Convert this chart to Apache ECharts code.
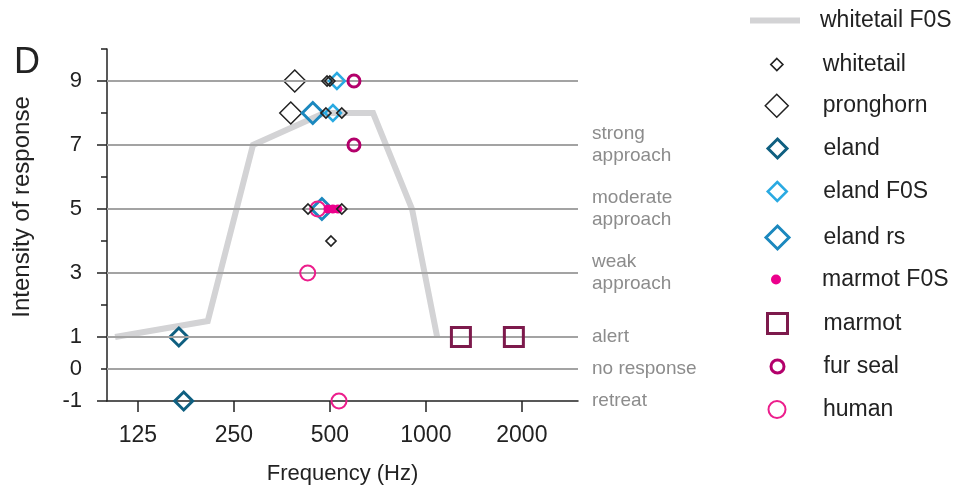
<!DOCTYPE html>
<html>
<head>
<meta charset="utf-8">
<script src="https://cdn.jsdelivr.net/npm/echarts@6/dist/echarts.min.js"></script>
<style>html,body{margin:0;padding:0;background:#fff}#c{width:966px;height:490px}</style>
</head>
<body>
<div id="c"></div>
<script>
// ---- data (frequency in Hz, intensity of response) ----
var xTickFreqs = [125, 250, 500, 1000, 2000];
var yLabelValues = [-1, 0, 1, 3, 5, 7, 9];
var gridLevels = [9, 7, 5, 3, 1, 0];
var responseLevels = [7, 5, 3, 1, 0, -1];
var responseLabels = ['strong\napproach', 'moderate\napproach', 'weak\napproach', 'alert', 'no response', 'retreat'];

var whitetailF0SFreq = [106, 207, 287, 480, 683, 905, 1085];
var whitetailF0SVal  = [1, 1.5, 7, 8, 8, 5, 1];
var whitetailFreq = [490, 500, 486, 545, 427, 545, 504];
var whitetailVal  = [9, 9, 8, 8, 5, 5, 4];
var pronghornFreq = [388, 377];
var pronghornVal  = [9, 8];
var elandFreq = [168, 174];
var elandVal  = [1, -1];
var elandF0SFreq = [526, 511];
var elandF0SVal  = [9, 8];
var elandRsFreq = [442, 472];
var elandRsVal  = [8, 5];
var marmotF0SFreq = [493, 511, 530];
var marmotF0SVal  = [5, 5, 5];
var marmotFreq = [1288, 1888];
var marmotVal  = [1, 1];
var furSealFreq = [595, 595];
var furSealVal  = [9, 7];
var humanFreq = [426, 458, 534];
var humanVal  = [3, 5, -1];

function pts(f, v) { return f.map(function (x, i) { return [Math.log2(x), v[i]]; }); }

var FONT = '"Liberation Sans", Arial, sans-serif';
var LEG_FONT = 23;

var scatterDefs = [
  {name: 'whitetail', f: whitetailFreq, v: whitetailVal, symbol: 'diamond', size: 10, lsize: 12, color: '#222222', bw: 1.7, fill: false, z: 8},
  {name: 'pronghorn', f: pronghornFreq, v: pronghornVal, symbol: 'diamond', size: 22, lsize: 23, color: '#222222', bw: 1.5, fill: false, z: 3},
  {name: 'eland', f: elandFreq, v: elandVal, symbol: 'diamond', size: 18, lsize: 19, color: '#0f5f80', bw: 3, fill: false, z: 4},
  {name: 'eland F0S', f: elandF0SFreq, v: elandF0SVal, symbol: 'diamond', size: 16, lsize: 19, color: '#2aaae2', bw: 2.5, fill: false, z: 5},
  {name: 'eland rs', f: elandRsFreq, v: elandRsVal, symbol: 'diamond', size: 21, lsize: 23, color: '#1b88be', bw: 3, fill: false, z: 4},
  {name: 'marmot F0S', f: marmotF0SFreq, v: marmotF0SVal, symbol: 'circle', size: 9, lsize: 10, color: '#ec008c', bw: 0, fill: true, z: 7},
  {name: 'marmot', f: marmotFreq, v: marmotVal, symbol: 'rect', size: 19, lsize: 20, color: '#7d1a4c', bw: 3, fill: false, z: 5},
  {name: 'fur seal', f: furSealFreq, v: furSealVal, symbol: 'circle', size: 12, lsize: 13, color: '#b3006b', bw: 3, fill: false, z: 9},
  {name: 'human', f: humanFreq, v: humanVal, symbol: 'circle', size: 15, lsize: 17, color: '#ec1e8c', bw: 2, fill: false, z: 6}
];

var series = [
  {
    name: 'grid', type: 'line', data: [], z: 1, silent: true,
    markLine: {
      silent: true, symbol: 'none', label: {show: false},
      lineStyle: {color: '#a3a3a3', width: 2, type: 'solid'},
      data: gridLevels.map(function (g) { return {yAxis: g}; })
    }
  },
  {
    name: 'whitetail F0S', type: 'line', data: pts(whitetailF0SFreq, whitetailF0SVal),
    showSymbol: false, symbol: 'none', z: 2,
    lineStyle: {color: '#d3d3d5', width: 6, join: 'miter'}, itemStyle: {color: '#d3d3d5'}
  }
];
scatterDefs.forEach(function (d) {
  series.push({
    name: d.name, type: 'scatter', data: pts(d.f, d.v), symbol: d.symbol, symbolSize: d.size, z: d.z,
    itemStyle: {color: d.fill ? d.color : 'rgba(0,0,0,0)', borderColor: d.color, borderWidth: d.bw, opacity: 1}
  });
});

// legends
var legendCenters = [20, 63, 104, 147, 190, 235, 278, 322, 365, 408];
var ICON_CX = 776, TEXT_X = 822, TEXT_H = 22;
var legends = [{
  data: [{name: 'whitetail F0S', icon: 'rect'}], left: 750, top: legendCenters[0] - TEXT_H / 2, padding: 0,
  itemWidth: 50, itemHeight: 6, selectedMode: false,
  itemStyle: {color: '#d3d3d5', borderWidth: 0},
  textStyle: {fontFamily: FONT, fontSize: LEG_FONT, color: '#222', padding: [0, 0, 0, TEXT_X - 2 - 805]}
}];
scatterDefs.forEach(function (d, i) {
  var s = d.lsize;
  legends.push({
    data: [{name: d.name, icon: d.symbol}], left: ICON_CX - s / 2, top: legendCenters[i + 1] + 1 - Math.max(s, TEXT_H) / 2, padding: 0,
    itemWidth: s, itemHeight: s, selectedMode: false,
    itemStyle: {color: d.fill ? d.color : 'rgba(0,0,0,0)', borderColor: d.color, borderWidth: d.bw},
    textStyle: {fontFamily: FONT, fontSize: LEG_FONT, color: '#222', padding: [0, 0, 0, TEXT_X - (ICON_CX + s / 2 + 5)]}
  });
});

var xTicks = xTickFreqs.map(function (f) { return Math.log2(f); });

var option = {
  animation: false,
  textStyle: {fontFamily: FONT},
  grid: {left: 107, right: 388, top: 49, bottom: 87, containLabel: false},
  legend: legends,
  xAxis: {
    type: 'value', min: Math.log2(100), max: Math.log2(3000),
    name: 'Frequency (Hz)', nameLocation: 'middle', nameGap: 62,
    nameTextStyle: {fontFamily: FONT, fontSize: 22, color: '#222'},
    axisLine: {show: true, onZero: false, lineStyle: {color: '#222', width: 1.5}},
    axisTick: {show: true, length: 11, lineStyle: {color: '#222', width: 1.5}, customValues: xTicks},
    axisLabel: {
      show: true, margin: 23, fontFamily: FONT, fontSize: 23, color: '#222', customValues: xTicks,
      formatter: function (v) { return String(Math.round(Math.pow(2, v))); }
    },
    splitLine: {show: false}
  },
  yAxis: [
    {
      type: 'value', min: -1, max: 10, interval: 1, position: 'left',
      axisLine: {show: true, onZero: false, lineStyle: {color: '#222', width: 1.5}},
      axisTick: {show: true, length: 6, lineStyle: {color: '#222', width: 1.5}},
      axisLabel: {show: true, margin: 25, fontFamily: FONT, fontSize: 22, color: '#222', customValues: yLabelValues},
      splitLine: {show: false}
    },
    {
      type: 'value', min: -1, max: 10, position: 'right',
      axisLine: {show: false}, axisTick: {show: false}, splitLine: {show: false},
      axisLabel: {
        show: true, margin: 14, fontFamily: FONT, fontSize: 19, lineHeight: 22, color: '#8c8c8c',
        customValues: responseLevels,
        formatter: function (v) { var i = responseLevels.indexOf(Math.round(v)); return i >= 0 ? responseLabels[i] : ''; }
      }
    },
    {
      type: 'value', min: -1, max: 10, position: 'left',
      axisLine: {show: false}, splitLine: {show: false}, axisLabel: {show: false},
      axisTick: {show: true, length: 10, lineStyle: {color: '#222', width: 1.5}, customValues: [-1, 1, 3, 5, 7, 9]}
    }
  ],
  graphic: [
    {type: 'text', left: 14, top: 45, style: {text: 'D', font: '36px ' + FONT, fill: '#222'}},
    {type: 'text', x: 22, y: 207, rotation: Math.PI / 2,
     style: {text: 'Intensity of response', font: '24px ' + FONT, fill: '#222', align: 'center', verticalAlign: 'middle'}}
  ],
  series: series
};

var chart = echarts.init(document.getElementById('c'), null, {renderer: 'canvas'});
chart.setOption(option);
</script>
</body>
</html>
